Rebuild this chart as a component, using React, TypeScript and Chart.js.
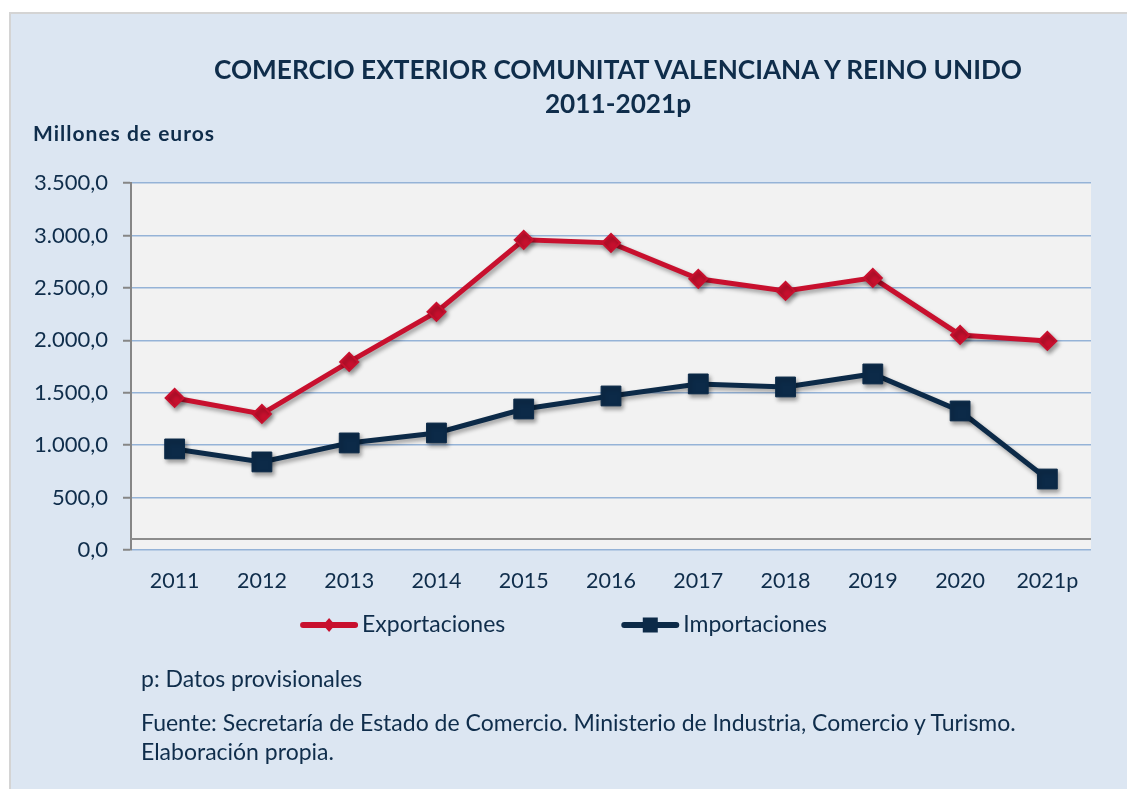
import React, { useEffect, useRef } from 'react';
import { Chart, registerables } from 'chart.js';

Chart.register(...registerables);

const categories = ['2011', '2012', '2013', '2014', '2015', '2016', '2017', '2018', '2019', '2020', '2021p'];
const exportaciones = [1450, 1298, 1794, 2271, 2958, 2929, 2586, 2471, 2595, 2051, 1994];
const importaciones = [964, 840, 1021, 1116, 1345, 1469, 1584, 1555, 1679, 1326, 677];
const seriesNames = ['Exportaciones', 'Importaciones'];
const yTickValues = [0, 500, 1000, 1500, 2000, 2500, 3000, 3500];

const RED = '#c8102e';
const NAVY = '#0c2a48';
const TEXT = '#0f2d4b';
const FONT = 'Lato, "Open Sans", sans-serif';

function fmt(v: number): string {
  const int = Math.floor(v).toString().replace(/\B(?=(\d{3})+(?!\d))/g, '.');
  return int + ',0';
}

const bgPlugin = {
  id: 'plotBg',
  beforeDraw(chart: any) {
    const { ctx, chartArea } = chart;
    ctx.save();
    ctx.fillStyle = '#f2f2f2';
    ctx.fillRect(chartArea.left, chartArea.top, chartArea.right - chartArea.left, chartArea.bottom - chartArea.top);
    ctx.restore();
  },
  beforeDatasetsDraw(chart: any) {
    const { ctx, chartArea } = chart;
    ctx.save();
    ctx.strokeStyle = '#8c8c8c';
    ctx.lineWidth = 2;
    ctx.beginPath();
    ctx.moveTo(chartArea.left, chartArea.bottom - 11);
    ctx.lineTo(chartArea.right, chartArea.bottom - 11);
    ctx.stroke();
    ctx.restore();
  },
};

const shadowPlugin = {
  id: 'lineShadow',
  beforeDatasetDraw(chart: any) {
    const ctx = chart.ctx;
    ctx.save();
    ctx.shadowColor = 'rgba(0,0,0,0.35)';
    ctx.shadowBlur = 4;
    ctx.shadowOffsetX = 2;
    ctx.shadowOffsetY = 3;
  },
  afterDatasetDraw(chart: any) {
    chart.ctx.restore();
  },
};

const legendPlugin = {
  id: 'customLegend',
  afterDraw(chart: any) {
    const ctx = chart.ctx;
    ctx.save();
    ctx.font = '23px ' + FONT;
    const lineLen = 58;
    const gapText = 4;
    const itemGap = 116;
    const widths = seriesNames.map((n) => ctx.measureText(n).width);
    const total = widths.reduce((a, w) => a + lineLen + gapText + w, 0) + itemGap;
    let x = chart.width / 2 - total / 2;
    const y = 625;
    chart.data.datasets.forEach((ds: any, i: number) => {
      const color = ds.borderColor;
      ctx.strokeStyle = color;
      ctx.fillStyle = color;
      ctx.lineWidth = 6;
      ctx.lineCap = 'round';
      ctx.beginPath();
      ctx.moveTo(x + 3, y);
      ctx.lineTo(x + lineLen - 3, y);
      ctx.stroke();
      const cx = x + lineLen / 2;
      ctx.beginPath();
      if (i === 0) {
        ctx.moveTo(cx - 6, y);
        ctx.lineTo(cx, y - 7);
        ctx.lineTo(cx + 6, y);
        ctx.lineTo(cx, y + 7);
        ctx.closePath();
      } else {
        ctx.rect(cx - 7.5, y - 7.5, 15, 15);
      }
      ctx.fill();
      ctx.fillStyle = TEXT;
      ctx.textBaseline = 'middle';
      ctx.textAlign = 'left';
      ctx.fillText(seriesNames[i], x + lineLen + gapText, y);
      x += lineLen + gapText + widths[i] + itemGap;
    });
    ctx.restore();
  },
};

function ChartCanvas() {
  const ref = useRef<HTMLCanvasElement | null>(null);
  useEffect(() => {
    if (!ref.current) return;
    const chart = new Chart(ref.current, {
      type: 'line',
      data: {
        labels: categories,
        datasets: [
          {
            label: seriesNames[0],
            data: exportaciones,
            borderColor: RED,
            backgroundColor: RED,
            borderWidth: 5,
            pointStyle: 'rectRot',
            pointRadius: 9,
            pointBorderWidth: 2,
            pointBackgroundColor: RED,
            pointBorderColor: RED,
            tension: 0,
          },
          {
            label: seriesNames[1],
            data: importaciones,
            borderColor: NAVY,
            backgroundColor: NAVY,
            borderWidth: 5,
            pointStyle: 'rect',
            pointRadius: 14,
            pointBorderWidth: 1,
            pointBackgroundColor: NAVY,
            pointBorderColor: NAVY,
            tension: 0,
          },
        ],
      },
      options: {
        animation: false,
        responsive: false,
        devicePixelRatio: 1,
        layout: { padding: { left: 10, top: 183, right: 36, bottom: 189 } },
        plugins: {
          legend: { display: false },
          title: { display: false },
          tooltip: { enabled: false },
        },
        scales: {
          x: {
            offset: true,
            grid: { display: false, drawTicks: false },
            border: { display: false },
            ticks: { color: TEXT, font: { family: FONT, size: 21.5 }, padding: 18, maxRotation: 0 },
            afterFit: (scale: any) => {
              scale.height = 50;
            },
          },
          y: {
            min: 0,
            max: 3500,
            afterBuildTicks: (scale: any) => {
              scale.ticks = yTickValues.map((v) => ({ value: v }));
            },
            grid: {
              color: '#95b3d7',
              lineWidth: 1.5,
              tickColor: '#868686',
              tickLength: 8,
              tickWidth: 2,
            },
            border: { display: true, color: '#868686', width: 2 },
            ticks: {
              color: TEXT,
              font: { family: FONT, size: 22 },
              padding: 15,
              callback: (v: any) => fmt(Number(v)),
            },
            afterFit: (scale: any) => {
              scale.width = 121;
            },
          },
        },
      },
      plugins: [bgPlugin, shadowPlugin, legendPlugin],
    });
    return () => chart.destroy();
  }, []);
  return (
    <canvas
      ref={ref}
      width={1127}
      height={789}
      style={{ position: 'absolute', left: 0, top: 0, width: 1127, height: 789, display: 'block' }}
    />
  );
}

export default function App() {
  const textStyle: React.CSSProperties = { position: 'absolute', color: TEXT, fontFamily: FONT, whiteSpace: 'nowrap' };
  return (
    <div style={{ position: 'absolute', left: 0, top: 0, width: 1127, height: 789, overflow: 'hidden', background: '#ffffff' }}>
      <div
        style={{
          position: 'absolute',
          left: 9,
          top: 12,
          width: 1127 - 9,
          height: 789 - 12,
          background: '#dce6f2',
          borderLeft: '2px solid #d4d4d4',
          borderTop: '2px solid #d4d4d4',
          boxSizing: 'border-box',
        }}
      />
      <ChartCanvas />
      <div
        style={{
          ...textStyle,
          left: 118,
          width: 1000,
          top: 52,
          textAlign: 'center',
          fontWeight: 700,
          fontSize: 26.2,
          lineHeight: '34px',
        }}
      >
        COMERCIO EXTERIOR COMUNITAT VALENCIANA Y REINO UNIDO
        <br />
        2011-2021p
      </div>
      <div style={{ ...textStyle, left: 33, top: 120, fontWeight: 700, fontSize: 21, letterSpacing: 1, lineHeight: '26px' }}>
        Millones de euros
      </div>
      <div style={{ ...textStyle, left: 141, top: 664, fontSize: 23, lineHeight: '29px' }}>p: Datos provisionales</div>
      <div style={{ ...textStyle, left: 141, top: 708, fontSize: 23, lineHeight: '29px' }}>
        Fuente: Secretaría de Estado de Comercio. Ministerio de Industria, Comercio y Turismo.
        <br />
        Elaboración propia.
      </div>
    </div>
  );
}
